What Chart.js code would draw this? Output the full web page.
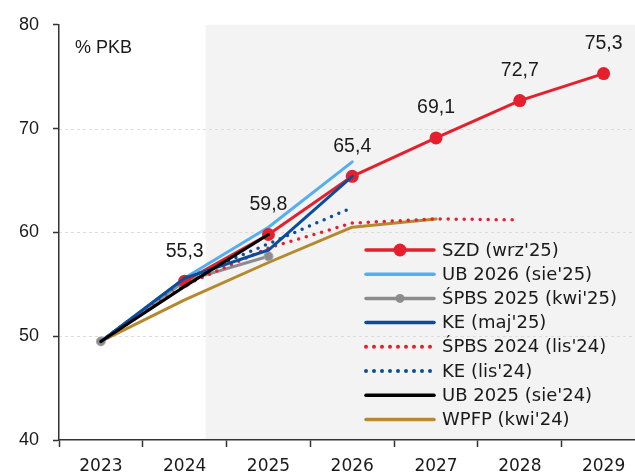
<!DOCTYPE html>
<html>
<head>
<meta charset="utf-8">
<script src="https://cdn.jsdelivr.net/npm/chart.js@4/dist/chart.umd.min.js"></script>
<style>
  html, body { margin: 0; padding: 0; background: #ffffff; overflow: hidden; }
  #wrap { position: relative; width: 652px; height: 475px; }
</style>
</head>
<body>
<div id="wrap"><canvas id="c"></canvas></div>
<script>
// ---- data ----
const years = ['2023', '2024', '2025', '2026', '2027', '2028', '2029'];
const szd      = [null, 55.3, 59.8, 65.4, 69.1, 72.7, 75.3];
const ub2026   = [49.5, 55.6, 60.5, 66.8, null, null, null];
const spbs2025 = [49.5, 55.3, 57.7, null, null, null, null];
const ke2025   = [49.5, 55.6, 58.3, 65.4, null, null, null];
const spbs2024 = [49.5, 54.9, 58.5, 60.9, 61.3, 61.2, null];
const ke2024   = [49.5, 55.5, 58.9, 62.4, null, null, null];
const ub2025   = [49.5, 54.8, 59.8, null, null, null, null];
const wpfp     = [49.5, 53.5, 57.1, 60.5, 61.3, null, null];
const yTicks   = [40, 50, 60, 70, 80];
const unitLabel = '% PKB';

const RED = '#e5202e', LBLUE = '#55aef0', GRAY = '#8c8c8c', DBLUE = '#0a4d9c', GOLD = '#b58a2c';

function ds(label, data, color, extra) {
  return Object.assign({
    label, data, borderColor: color, backgroundColor: color,
    borderWidth: 3, pointRadius: 0, pointHoverRadius: 0, tension: 0,
    spanGaps: false, borderCapStyle: 'round', borderJoinStyle: 'round'
  }, extra || {});
}

const datasets = [
  ds("SZD (wrz'25)", szd, RED, { pointRadius: 6.5, pointBorderWidth: 0, order: 5 }),
  ds("UB 2026 (sie'25)", ub2026, LBLUE, { order: 6 }),
  ds("ŚPBS 2025 (kwi'25)", spbs2025, GRAY, { pointRadius: 4.5, pointBorderWidth: 1, pointBorderColor: '#a6a6a6', order: 8.5 }),
  ds("KE (maj'25)", ke2025, DBLUE, { order: 4 }),
  ds("ŚPBS 2024 (lis'24)", spbs2024, RED, { borderDash: [0, 8], borderWidth: 3.5, order: 7 }),
  ds("KE (lis'24)", ke2024, DBLUE, { borderDash: [0, 8], borderWidth: 3.5, order: 8 }),
  ds("UB 2025 (sie'24)", ub2025, '#000000', { order: 2 }),
  ds("WPFP (kwi'24)", wpfp, GOLD, { order: 9 })
];

const bgPlugin = {
  id: 'bgShade',
  beforeDraw(chart) {
    const { ctx, chartArea, scales } = chart;
    const x0 = scales.x.getPixelForValue(1.25);
    ctx.save();
    ctx.fillStyle = '#f3f3f3';
    ctx.fillRect(x0, chartArea.top, chart.width - x0, chartArea.bottom - chartArea.top);
    ctx.strokeStyle = '#dcdcdc';
    ctx.lineWidth = 1;
    ctx.setLineDash([3, 3]);
    yTicks.forEach(v => {
      if (v <= 40 || v >= 80) return;
      const y = Math.round(scales.y.getPixelForValue(v)) + 0.5;
      ctx.beginPath();
      ctx.moveTo(chartArea.left, y);
      ctx.lineTo(chartArea.right, y);
      ctx.stroke();
    });
    ctx.restore();
  }
};

const labelPlugin = {
  id: 'extras',
  afterDatasetsDraw(chart) {
    const { ctx, scales } = chart;
    ctx.save();
    ctx.font = '19.5px "Liberation Sans", Arial, sans-serif';
    ctx.fillStyle = '#1a1a1a';
    ctx.textAlign = 'center';
    ctx.textBaseline = 'middle';
    szd.forEach((v, i) => {
      if (v == null) return;
      const x = scales.x.getPixelForValue(i);
      const y = scales.y.getPixelForValue(v);
      ctx.fillText(v.toFixed(1).replace('.', ','), x, y - 30);
    });
    ctx.font = '18px "Liberation Sans", Arial, sans-serif';
    ctx.textAlign = 'left';
    ctx.fillText(unitLabel, 75, 48);

    const lx0 = 366, lx1 = 434, tx = 442, ly0 = 250, step = 24.2;
    ctx.font = '18px "DejaVu Sans", sans-serif';
    ctx.textBaseline = 'middle';
    chart.data.datasets.forEach((d, i) => {
      const y = ly0 + i * step;
      ctx.save();
      ctx.strokeStyle = d.borderColor;
      ctx.lineWidth = d.borderWidth + 0.5;
      ctx.lineCap = 'round';
      ctx.setLineDash(d.borderDash || []);
      ctx.beginPath();
      ctx.moveTo(lx0, y);
      ctx.lineTo(lx1, y);
      ctx.stroke();
      ctx.setLineDash([]);
      if (d.pointRadius > 0) {
        ctx.fillStyle = d.backgroundColor;
        ctx.beginPath();
        ctx.arc((lx0 + lx1) / 2, y, d.pointRadius, 0, Math.PI * 2);
        ctx.fill();
      }
      ctx.restore();
      ctx.fillStyle = '#1a1a1a';
      ctx.fillText(d.label, tx, y + 1);
    });
    ctx.restore();
  }
};

new Chart(document.getElementById('c'), {
  type: 'line',
  data: { labels: years, datasets },
  options: {
    responsive: true,
    maintainAspectRatio: false,
    animation: false,
    events: [],
    layout: { padding: { left: 0, top: 21, right: 3, bottom: 0 } },
    plugins: { legend: { display: false }, tooltip: { enabled: false } },
    scales: {
      x: {
        type: 'category',
        offset: true,
        afterFit(s) { s.height = 35; },
        grid: { drawOnChartArea: false, drawTicks: true, tickLength: 7, tickColor: '#333333', tickWidth: 1.5, offset: true },
        border: { color: '#333333', width: 1.5 },
        ticks: { color: '#1a1a1a', font: { family: '"DejaVu Sans", sans-serif', size: 17 }, padding: 9, maxRotation: 0 }
      },
      y: {
        min: 40, max: 80,
        afterFit(s) { s.width = 59; },
        afterBuildTicks(s) { s.ticks = yTicks.map(v => ({ value: v })); },
        grid: { drawOnChartArea: false, drawTicks: true, tickLength: 6, tickColor: '#333333', tickWidth: 1.5 },
        border: { color: '#333333', width: 1.5 },
        ticks: { color: '#1a1a1a', font: { family: '"Liberation Sans", Arial, sans-serif', size: 18 }, padding: 14 }
      }
    }
  },
  plugins: [bgPlugin, labelPlugin]
});
</script>
</body>
</html>
